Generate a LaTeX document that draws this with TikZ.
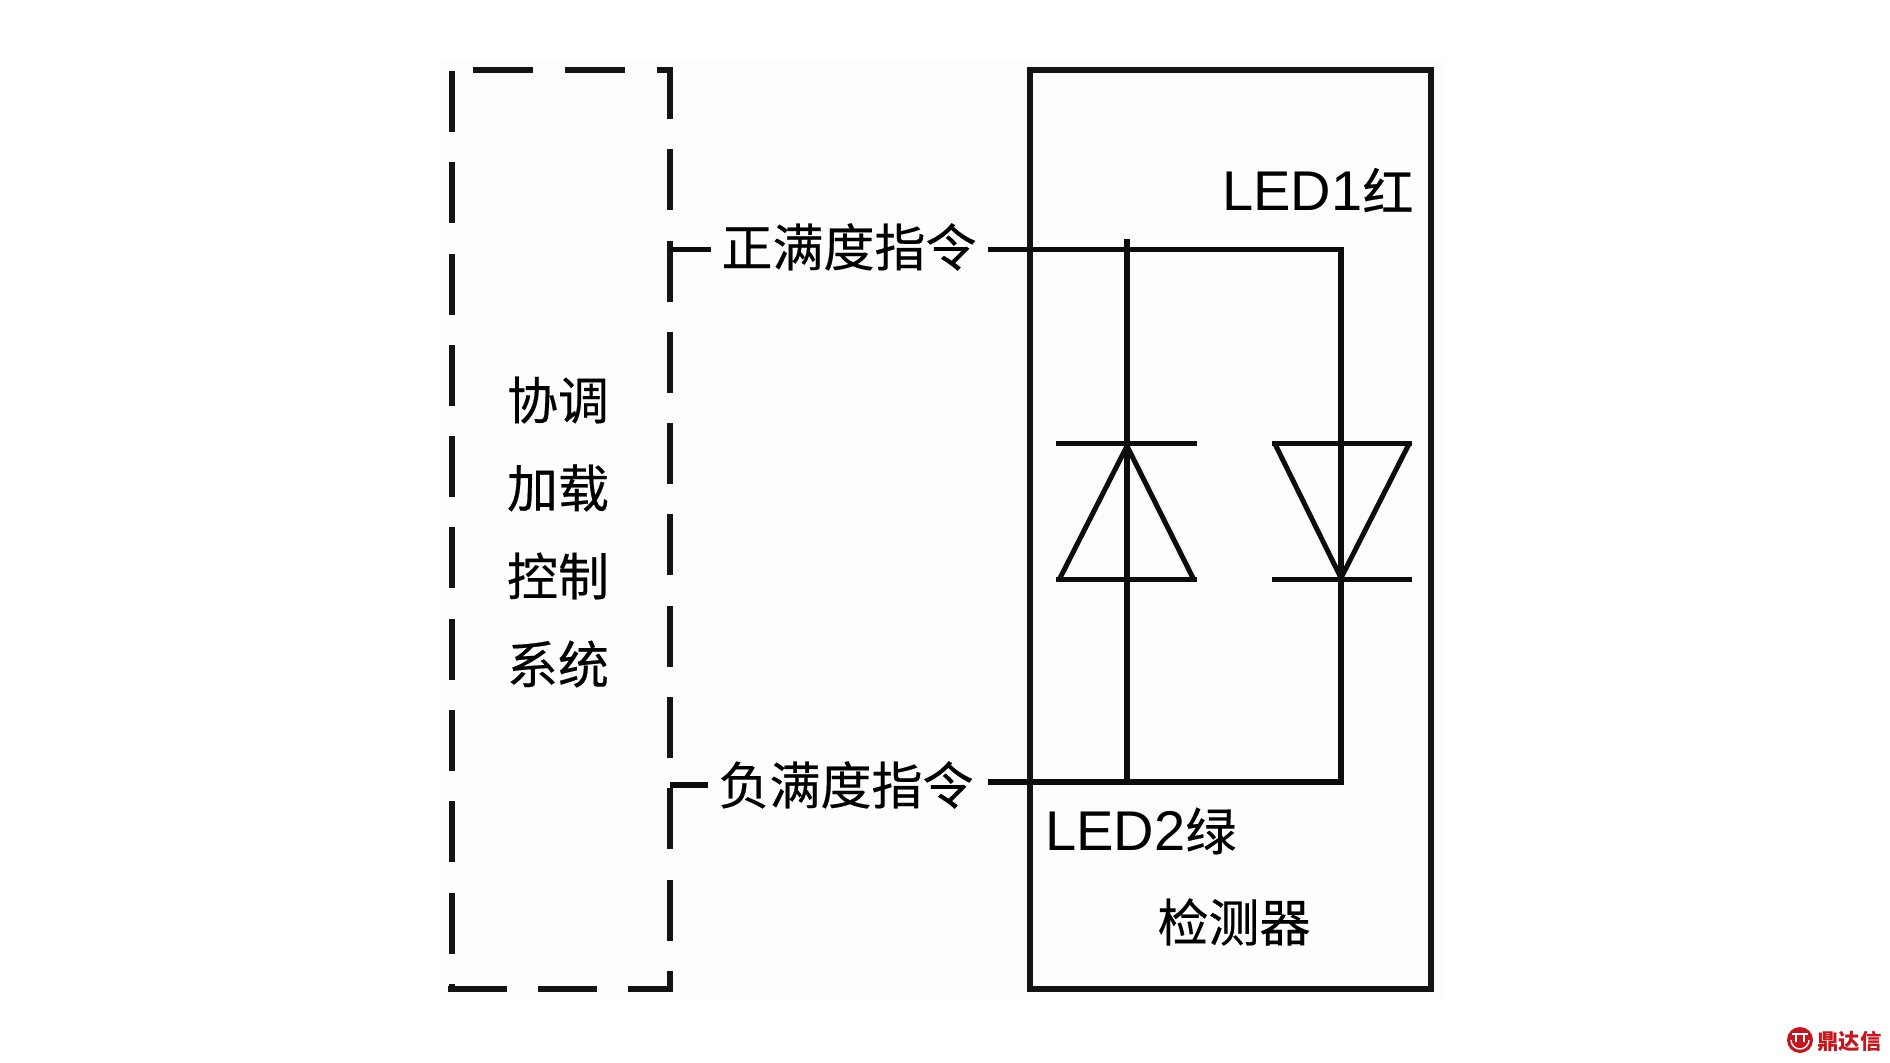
\documentclass[tikz,border=0pt]{standalone}
\usepackage{fontspec}
\setmainfont{Liberation Sans}
\newfontfamily\cjk[FakeBold=0.35]{Noto Sans CJK SC}
\newfontfamily\cjkbrand{Noto Sans CJK SC}
\definecolor{logored}{HTML}{C4161C}
\begin{document}
\begin{tikzpicture}[x=0.5pt,y=-0.5pt,
  wire/.style={line width=2.7pt,black!95},
  dashside/.style={line width=3.1pt,black!92,line cap=butt},
  detbox/.style={draw=black!92,line width=3pt,inner sep=0pt,outer sep=0pt,minimum width=200.5pt,minimum height=459.5pt,anchor=north west},
  ctrlbox/.style={inner sep=0pt,outer sep=0pt,minimum width=109pt,minimum height=459.5pt,anchor=north west},
  cjklabel/.style={inner sep=0pt,font=\fontsize{25.5}{30}\selectfont\cjk,black},
  latinlabel/.style={inner sep=0pt,anchor=west,font=\fontsize{28}{32}\selectfont,black},
  pole/.style={line width=2.5pt,black!95}]
\useasboundingbox (0,0) rectangle (1890,1063);
\fill[white] (0,0) rectangle (1890,1063);
\fill[black!0.6] (440,60) rectangle (1445,1000);
% control box: four dashed sides
\node[ctrlbox] (ctrl) at (452,70) {};
\draw[dashside,dash pattern=on 30.5pt off 15.15pt] ([yshift=-0.5pt]ctrl.north west) -- (ctrl.south west);
\draw[dashside,dash pattern=on 30.5pt off 15.15pt,dash phase=6pt] (ctrl.north east) -- (ctrl.south east);
\draw[dashside,dash pattern=on 30pt off 16pt,dash phase=34.5pt] ([xshift=-1pt]ctrl.north west) -- ([xshift=1.5pt]ctrl.north east);
\draw[dashside,dash pattern=on 29.5pt off 15.5pt] ([xshift=-2pt]ctrl.south west) -- ([xshift=1.5pt]ctrl.south east);
% detector box
\node[detbox] (det) at (1030,70) {};
% text
\node[cjklabel] (pos) at (849,247) {正满度指令};
\node[cjklabel] (neg) at (846,785) {负满度指令};
\node[cjklabel] (c1) at (558,400) {协调};
\node[cjklabel] (c2) at (558,488) {加载};
\node[cjklabel] (c3) at (558,576) {控制};
\node[cjklabel] (c4) at (558,664) {系统};
\node[latinlabel] (led1) at (1222,190) {LED1{\cjk\fontsize{25.5}{30}\selectfont 红}};
\node[latinlabel] (led2) at (1045,831) {LED2{\cjk\fontsize{25.5}{30}\selectfont 绿}};
\node[cjklabel] (detname) at (1234,922) {检测器};
% wiring points
\coordinate (posA) at (988,249.5);
\coordinate (negA) at (988,782);
\coordinate (aTop) at (1127,239);
\coordinate (aBot) at (1127,782);
\coordinate (bTop) at (1341,249.5);
\coordinate (bBot) at (1341,782);
% connectors
\draw[wire] (ctrl.east |- 0,249.5) -- ([xshift=-5pt]pos.west |- 0,249.5);
\draw[wire] (ctrl.east |- 0,785) -- ([xshift=-5pt]neg.west |- 0,785);
\draw[wire] (posA) -- (bTop) -- (bBot) -- (negA);
\draw[wire] (aTop) -- (aBot);
% diode A (pointing up)
\coordinate (aBarL) at (1056,443.5);\coordinate (aBarR) at (1197,443.5);
\coordinate (aBaseL) at (1056,580);\coordinate (aBaseR) at (1197,580);
\coordinate (aApex) at (1127,446);
\draw[pole] (aBarL) -- (aBarR);
\draw[pole] (aBaseL) -- (aBaseR);
\draw[pole,line join=miter] (1059,580) -- (aApex) -- (1194,580);
% diode B (pointing down)
\coordinate (bBarL) at (1272,444);\coordinate (bBarR) at (1412,444);
\coordinate (bBaseL) at (1272,580);\coordinate (bBaseR) at (1412,580);
\coordinate (bApex) at (1341,578);
\draw[pole] (bBarL) -- (bBarR);
\draw[pole] (bBaseL) -- (bBaseR);
\draw[pole] (1275,444) -- (bApex) -- (1409,444);
% logo
\fill[logored] (1800,1040) circle[radius=6.5pt];
\draw[white,line width=0.7pt] (1792,1034) -- (1808,1034);
\draw[white,line width=0.7pt] (1796,1034) -- (1796,1042) (1804,1034) -- (1804,1042);
\draw[white,line width=0.7pt] (1791,1040) arc[start angle=180,end angle=360,radius=4.5pt];
\node[inner sep=0pt,anchor=west,font=\fontsize{10.7}{12}\selectfont\cjkbrand\bfseries,logored] (brand) at (1817,1041) {鼎达信};
\end{tikzpicture}
\end{document}
